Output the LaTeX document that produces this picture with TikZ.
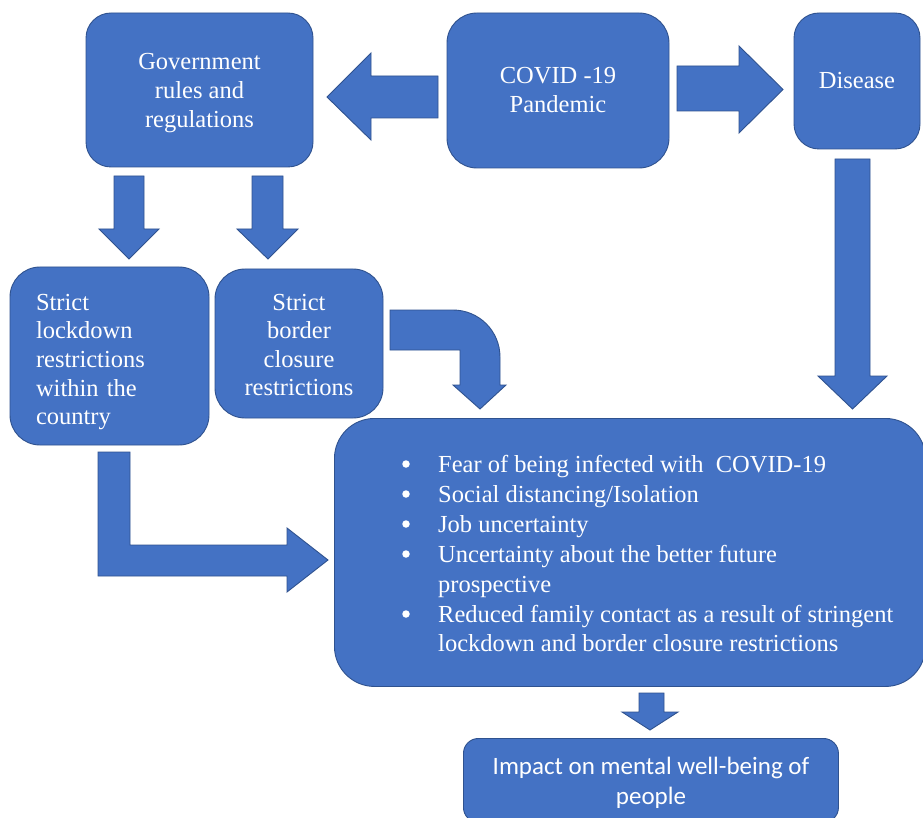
\documentclass[tikz,border=0pt]{standalone}
\usepackage{fontspec}
\setmainfont{Liberation Serif}
\newfontfamily\calib{Carlito}
\definecolor{boxblue}{HTML}{4472C4}
\definecolor{edgeblue}{HTML}{2F528F}
\begin{document}
\begin{tikzpicture}[x=1pt,y=-1pt,
  box/.style={draw=edgeblue, fill=boxblue, line width=0.9pt, text=white, inner sep=0pt,
    font=\fontsize{24.5}{29}\selectfont, align=center},
  blockarrow/.style={draw=edgeblue, fill=boxblue, line width=0.9pt, line join=miter},
  txt/.style={text=white, inner sep=0pt, font=\fontsize{24.5}{29.8}\selectfont},
  dot/.style={circle, fill=white, inner sep=0pt, minimum size=7.5pt}]
\useasboundingbox (0,0) rectangle (923,818);
\fill[white] (0,0) rectangle (923,818);

% boxes
\node[box, rounded corners=25pt, minimum width=227pt, minimum height=154pt] (gov) at (199.5,90) {};
\node[txt, align=center, font=\fontsize{24.5}{29}\selectfont] (govtext) at (199.5,93.5)
  {Government\\rules and\\regulations};
\node[box, rounded corners=30pt, minimum width=222pt, minimum height=155pt] (covid) at (558,90.5)
  {COVID -19\\Pandemic};
\node[box, rounded corners=25pt, minimum width=126pt, minimum height=136pt] (disease) at (857,81)
  {Disease};
\node[box, rounded corners=30pt, minimum width=199pt, minimum height=178pt] (lock) at (109.5,356) {};
\node[txt, align=left, text width=147pt, font=\fontsize{24.5}{28.6}\selectfont] (locktext) at (109.5,362)
  {Strict\\lockdown\\restrictions\\within the\\country};
\node[box, rounded corners=30pt, minimum width=168pt, minimum height=149pt] (border) at (299,343.5) {};
\node[txt, align=center, font=\fontsize{24.5}{28.5}\selectfont] (bordertext) at (299,345)
  {Strict\\border\\closure\\restrictions};
\node[box, rounded corners=40pt, minimum width=591pt, minimum height=268pt, anchor=north west] (big) at (334,418) {};
\node[box, rounded corners=15pt, minimum width=375pt, minimum height=84pt, anchor=north west] (impact) at (463,738) {};
\node[txt, align=center, font=\calib\fontsize{25}{30}\selectfont] (impacttext) at (651,783)
  {Impact on mental well-being of\\people};

% bullet list
\foreach \i/\y in {1/464, 2/494, 3/524, 4/554, 6/614} {
  \node[dot] (b\i) at (406,\y) {};
}
\node[txt, anchor=base west] (l1) at (438,472) {Fear of being infected with\ \ COVID-19};
\node[txt, anchor=base west] (l2) at (438,502) {Social distancing/Isolation};
\node[txt, anchor=base west] (l3) at (438,532) {Job uncertainty};
\node[txt, anchor=base west] (l4) at (438,562) {Uncertainty about the better future};
\node[txt, anchor=base west] (l5) at (438,592) {prospective};
\node[txt, anchor=base west] (l6) at (438,622) {Reduced family contact as a result of stringent};
\node[txt, anchor=base west] (l7) at (438,651) {lockdown and border closure restrictions};

% block arrows
% COVID -> Government
\draw[blockarrow] (438,76) -- (371,76) -- (371,53) -- (327,97) -- (371,140) -- (371,118) -- (438,118) -- cycle;
% COVID -> Disease
\draw[blockarrow] (677,66) -- (739,66) -- (739,46) -- (783,89.5) -- (739,133) -- (739,111) -- (677,111) -- cycle;
% Government -> lockdown
\draw[blockarrow] (114,176) -- (144,176) -- (144,229) -- (159,229) -- (129,259) -- (99,229) -- (114,229) -- cycle;
% Government -> border
\draw[blockarrow] (252,176) -- (283,176) -- (283,229) -- (298,229) -- (268,259) -- (237,229) -- (252,229) -- cycle;
% Disease -> big
\draw[blockarrow] (835,159) -- (870,159) -- (870,376) -- (887,376) -- (852.5,409) -- (818,376) -- (835,376) -- cycle;
% border -> big (bent)
\draw[blockarrow] (390,310) -- (453,310) arc[start angle=90, end angle=0, radius=47pt]
  -- (500,385) -- (506,385) -- (480,409) -- (453,385) -- (460,385) -- (460,350) -- (390,350) -- cycle;
% lockdown -> big (L-shaped)
\draw[blockarrow] (98,452) -- (130,452) -- (130,545) -- (287,545) -- (287,528) -- (328,560)
  -- (287,592) -- (287,576) -- (98,576) -- cycle;
% big -> impact
\draw[blockarrow] (639,693) -- (664,693) -- (664,712) -- (678,712) -- (650,730) -- (622,712) -- (639,712) -- cycle;
\end{tikzpicture}
\end{document}
